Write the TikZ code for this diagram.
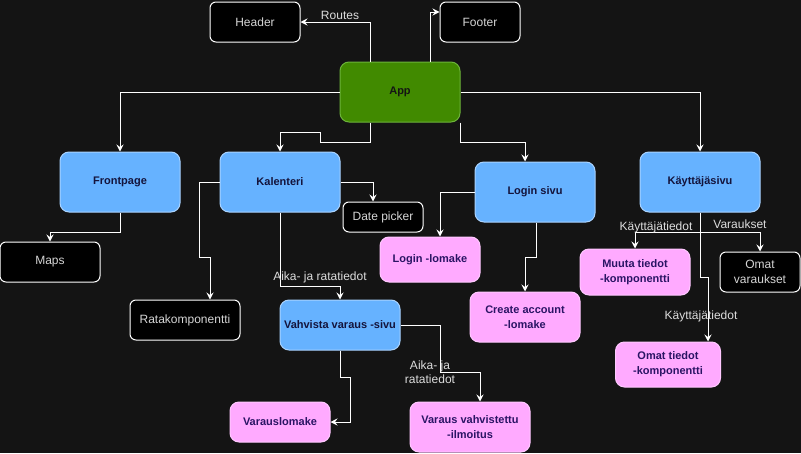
\documentclass[tikz,border=0pt]{standalone}
\usepackage{fontspec}
\setmainfont{Liberation Sans}
\usetikzlibrary{arrows.meta}
\definecolor{bgc}{HTML}{141414}
\definecolor{bluef}{HTML}{66B2FF}
\definecolor{blued}{HTML}{A9D3FF}
\definecolor{bluet}{HTML}{14143C}
\definecolor{pinkf}{HTML}{FFAAFF}
\definecolor{pinkd}{HTML}{FFC8FF}
\definecolor{pinkt}{HTML}{2A1464}
\definecolor{greenf}{HTML}{418A00}
\definecolor{greend}{HTML}{6CB33A}
\definecolor{greent}{HTML}{141414}
\definecolor{darkt}{HTML}{D6D6D6}
\definecolor{labt}{HTML}{DDDDDD}
\tikzset{
  base/.style={rectangle, rounded corners=9pt, inner sep=1pt, align=center, line width=1pt,
    font=\fontsize{12}{15}\selectfont},
  boldtxt/.style={font=\fontsize{11}{15}\selectfont\bfseries},
  bluebox/.style={base, fill=bluef, draw=blued, text=bluet, boldtxt},
  pinkbox/.style={base, fill=pinkf, draw=pinkd, text=pinkt, boldtxt},
  greenbox/.style={base, fill=greenf, draw=greend, text=greent, boldtxt},
  darkbox/.style={base, rounded corners=6pt, fill=black, draw=white, text=darkt},
  conn/.style={draw=white, line width=1pt, -{Stealth[length=7pt,width=7pt,inset=2.5pt]}},
  lab/.style={text=labt, font=\fontsize{12}{14}\selectfont, inner sep=0pt, align=center},
}
\begin{document}
\begin{tikzpicture}[x=1pt,y=-1pt]
\fill[bgc] (0,0) rectangle (801,453);
\useasboundingbox (0,0) rectangle (801,453);

\node[darkbox, minimum width=90pt, minimum height=40pt] (header) at (255,22) {Header};
\node[darkbox, minimum width=80pt, minimum height=40pt] (footer) at (480,22) {Footer};
\node[greenbox, minimum width=120pt, minimum height=60pt] (app) at (400,92) {App};
\node[bluebox, minimum width=120pt, minimum height=60pt] (front) at (120,182) {Frontpage};
\node[bluebox, minimum width=120pt, minimum height=60pt] (kal) at (280,182) {Kalenteri};
\node[bluebox, minimum width=120pt, minimum height=60pt] (login) at (535,192) {Login sivu};
\node[bluebox, minimum width=120pt, minimum height=60pt] (kay) at (700,182) {Käyttäjäsivu};
\node[darkbox, minimum width=80pt, minimum height=30pt] (date) at (383,217) {Date picker};
\node[darkbox, minimum width=100pt, minimum height=40pt] (maps) at (50,262) {Maps};
\node[darkbox, minimum width=110pt, minimum height=40pt] (rata) at (185,320) {Ratakomponentti};
\node[bluebox, minimum width=120pt, minimum height=50pt] (vah) at (340,325) {Vahvista varaus -sivu};
\node[pinkbox, minimum width=100pt, minimum height=45pt] (llom) at (430,259.5) {Login -lomake};
\node[pinkbox, minimum width=110pt, minimum height=50pt] (create) at (525,317) {Create account\\-lomake};
\node[pinkbox, minimum width=110pt, minimum height=46pt] (muuta) at (635,272) {Muuta tiedot\\-komponentti};
\node[darkbox, minimum width=80pt, minimum height=40pt] (omv) at (760,272) {Omat\\varaukset};
\node[pinkbox, minimum width=105pt, minimum height=45pt] (omt) at (668,364.5) {Omat tiedot\\-komponentti};
\node[pinkbox, minimum width=100pt, minimum height=40pt] (vlom) at (280,422) {Varauslomake};
\node[pinkbox, minimum width=120pt, minimum height=50pt] (vv) at (470,427) {Varaus vahvistettu\\-ilmoitus};

% connectors
\draw[conn] ([xshift=-30pt]app.north) |- (header.east);
\draw[conn] ([xshift=30pt]app.north) |- ([yshift=10pt]footer.west);
\draw[conn] (app.west) -| (front.north);
\draw[conn] ([xshift=-30pt]app.south) -- ++(0,20) -- ++(-50,0) -- ++(0,-10) -| (kal.north);
\draw[conn] (app.south east) -- ++(0,20) -| ([xshift=-10pt]login.north);
\draw[conn] (app.east) -| (kay.north);
\draw[conn] (kal.east) -| ([xshift=-10pt]date.north);
\draw[conn] (kal.west) -- ++(-20,0) -- ++(0,75) -| ([xshift=25pt]rata.north);
\draw[conn] (kal.south) -- ++(0,74) -| (vah.north);
\draw[conn] (front.south) -- ++(0,20) -| (maps.north);
\draw[conn] (login.west) -| ([xshift=10pt]llom.north);
\draw[conn] ([xshift=1pt]login.south) -- ++(0,35) -| (create.north);
\draw[conn] (kay.south) -- ++(0,20) -| (muuta.north);
\draw[conn] ([yshift=-20pt]kay.south) -| (omv.north);
\draw[conn] (kay.south) -- ++(0,65) -- ++(8,0) -- ([xshift=40pt]omt.north);
\draw[conn] (vah.south) -- ++(0,27) -- ++(10,0) |- (vlom.east);
\draw[conn] (vah.east) -- ++(40,0) -- ++(0,47) -| ([xshift=10pt]vv.north);

% labels
\node[lab] (lroutes) at (340,15) {Routes};
\node[lab] (laika1) at (320,277) {Aika- ja ratatiedot};
\node[lab] (laika2) at (430,372) {Aika- ja\\ratatiedot};
\node[lab] (lkt1) at (656,227) {Käyttäjätiedot};
\node[lab] (lvar) at (740,224) {Varaukset};
\node[lab] (lkt2) at (701,316) {Käyttäjätiedot};
\end{tikzpicture}
\end{document}
